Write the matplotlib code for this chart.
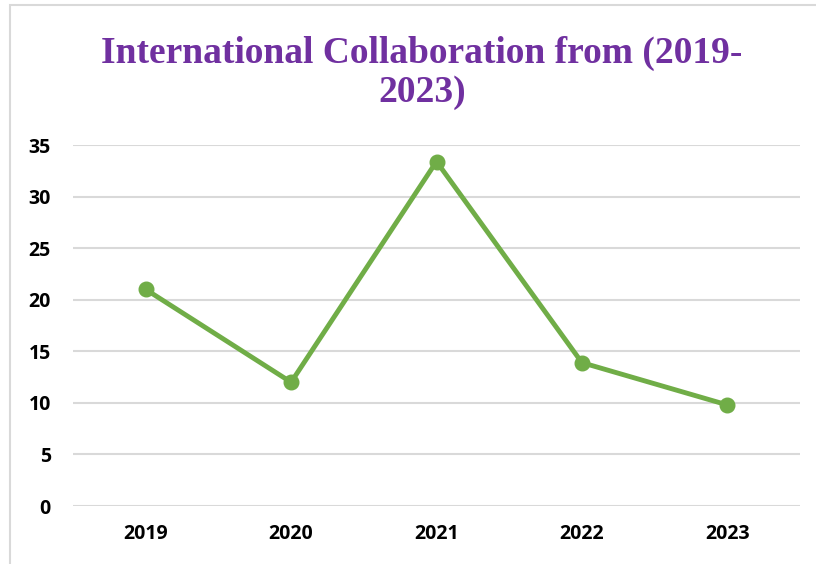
import matplotlib

matplotlib.use("Agg")

import matplotlib.pyplot as plt
from matplotlib.patches import Rectangle

years = ["2019", "2020", "2021", "2022", "2023"]
collaboration = [21.0, 12.0, 33.4, 13.9, 9.8]
y_ticks = [0, 5, 10, 15, 20, 25, 30, 35]

GREEN = "#70AD47"
PURPLE = "#7030A0"
GRID = "#D9D9D9"

fig = plt.figure(figsize=(8.16, 5.64), dpi=100)
ax = fig.add_axes([73 / 816, 1 - 506 / 564, 727 / 816, 361 / 564])

ax.plot(range(len(years)), collaboration, color=GREEN, linewidth=3.5,
        marker="o", markersize=10.5, solid_capstyle="round", zorder=3)

ax.set_xlim(-0.5, len(years) - 0.5)
ax.set_ylim(0, 35)
ax.set_yticks(y_ticks)
ax.set_xticks(range(len(years)))
ax.set_xticklabels(years)
ax.grid(axis="y", color=GRID, linewidth=1.5)
ax.set_axisbelow(True)
for s in ax.spines.values():
    s.set_visible(False)
ax.tick_params(length=0, labelsize=14)
for lbl in ax.get_xticklabels() + ax.get_yticklabels():
    lbl.set_fontfamily("Open Sans")
    lbl.set_fontweight("bold")
ax.tick_params(axis="x", pad=13)
ax.tick_params(axis="y", pad=16)

title_kw = dict(ha="center", va="center", fontsize=27, fontweight="bold",
                family="Liberation Serif", color=PURPLE)
fig.text(0.517, 1 - 53 / 564, "International Collaboration from (2019-", **title_kw)
fig.text(0.517, 1 - 93 / 564, "2023)", **title_kw)

# chart frame (left and top edges visible in the crop)
fig.add_artist(Rectangle((10 / 816, -0.1), 1.2, 1 - 5 / 564 + 0.1,
                         transform=fig.transFigure, fill=False,
                         edgecolor="#D9D9D9", linewidth=1.5))

fig.savefig("out.png", dpi=100)
